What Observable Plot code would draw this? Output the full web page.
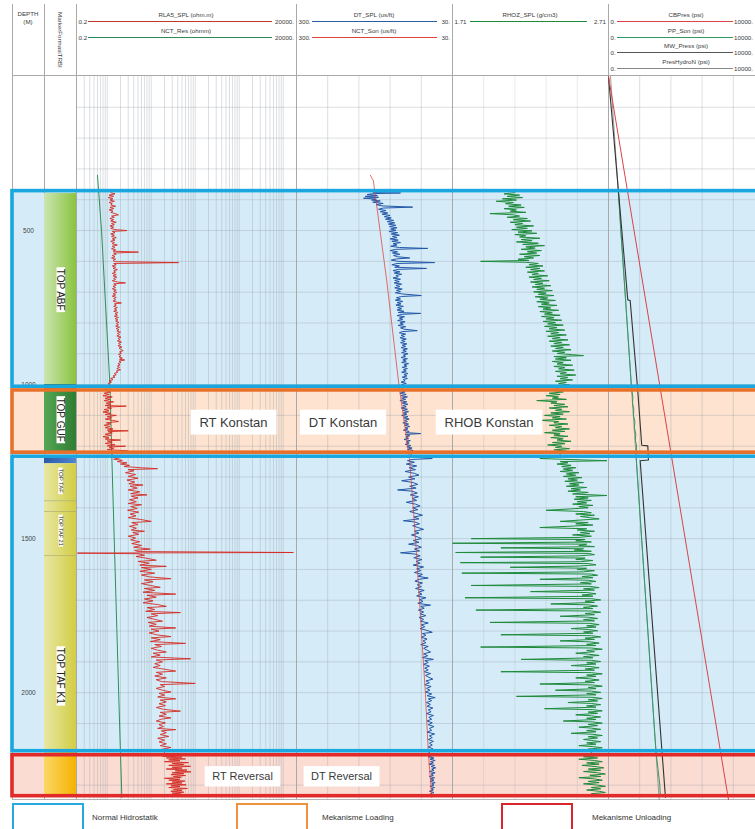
<!DOCTYPE html>
<html><head><meta charset="utf-8">
<script src="https://cdn.jsdelivr.net/npm/d3@7"></script>
<script src="https://cdn.jsdelivr.net/npm/@observablehq/plot@0.6"></script>
<style>
body{margin:0;background:#fff;}
#wrap{position:relative;width:755px;height:829px;overflow:hidden;font-family:"Liberation Sans",Arial,sans-serif;background:#fff;}
#wrap svg{max-width:none !important;}
.abs{position:absolute;}
.ht{position:absolute;font-size:6.2px;line-height:7px;color:#3a3a3a;white-space:nowrap;}
.lg{position:absolute;font-size:8px;color:#333;white-space:nowrap;}
</style></head><body><div id="wrap"></div>
<script>
// ---------------- DATA ----------------
const depthLabels = [500, 1000, 1500, 2000];
const gridDepths = [100,200,300,400,500,600,700,800,900,1000,1100,1200,1300,1400,1500,1600,1700,1800,1900,2000,2100,2200,2300];
const resTicks = [0.3,0.4,0.5,0.6,0.7,0.8,0.9,1,2,3,4,5,6,7,8,9,10,20,30,40,50,60,70,80,90,100,200,300,400,500,600,700,800,900,1000,2000,3000,4000,5000,6000,7000,8000,9000,10000];
const dtTicks = [246, 192, 138, 84];
const rhobTicks = [1.91, 2.11, 2.31, 2.51];
const presTicks = [2000, 4000, 6000, 8000];

// pressure zones
const zoneKind = ["normal", "loading", "normal", "unloading"];
const zoneTop = [372, 1019, 1234, 2203];
const zoneBase = [1007, 1221, 2190, 2336];

// formation column
const fmTop   = [380, 1000, 1007, 1234, 1257, 1377, 1412, 1555, 2190];
const fmBase  = [1000, 1007, 1221, 1257, 1377, 1412, 1555, 2190, 2340];
const fmStyle = ["abf", "abfBase", "guf", "tafTop", "taf", "taf", "taf", "taf", "tafLow"];
const fmTops  = [1377, 1412, 1555];
const fmLabel = ["TOP ABF", "TOP GUF", "TOP TAF", "TOP TAF 21", "TOP TAF K1"];
const fmLabelDepth = [692, 1114, 1312, 1474, 1945];
const fmLabelSize = [10, 10, 6, 5.5, 10];

// annotations
const annText = ["RT Konstan", "DT Konstan", "RHOB Konstan", "RT Reversal", "DT Reversal"];
const annTrack = ["res", "dt", "rhob", "res", "dt"];
const annValue = [740, 219.5, 1.944, 1185, 222];
const annDepth = [1123, 1123, 1123, 2273, 2273];
const annSize = [13, 13, 13, 11, 11];

// curves: [depth (m), value]
const rtLog = [[377,1.2],[381,1.5],[385,1.1],[389,1.4],[393,1.05],[397,1.35],[401,1.15],[405,1.45],[409,1.1],[413,1.3],[417,1.2],[421,1.55],[425,1.15],[429,1.4],[433,1.1],[437,1.35],[441,1.2],[445,1.5],[449,1.8],[453,1.25],[457,1.45],[461,1.15],[465,1.4],[469,1.2],[473,1.6],[477,1.25],[481,1.45],[485,1.15],[489,1.4],[493,1.2],[497,1.5],[500,2.8],[503,1.3],[507,1.5],[511,1.2],[515,1.45],[519,1.25],[523,1.6],[527,1.3],[531,1.5],[535,1.2],[539,1.45],[543,1.3],[547,1.7],[551,1.3],[555,1.5],[559,1.25],[563,1.55],[567,1.35],[570,5.1],[573,1.4],[577,1.6],[581,1.3],[585,1.5],[589,1.25],[593,1.55],[597,1.35],[601,1.5],[604,42],[607,1.4],[611,1.6],[615,1.3],[619,1.55],[623,1.35],[627,1.7],[631,1.4],[635,1.55],[639,1.3],[643,1.6],[647,1.35],[651,1.65],[655,1.4],[659,1.55],[663,1.3],[667,1.7],[670,2.6],[673,1.4],[677,1.6],[681,1.35],[685,1.55],[689,1.3],[693,1.6],[697,1.4],[701,1.65],[705,1.35],[709,1.55],[713,1.3],[717,1.6],[721,1.4],[725,1.55],[729,1.35],[733,1.7],[735,2.1],[738,1.45],[742,1.6],[746,1.4],[750,1.7],[754,1.45],[758,1.65],[762,1.4],[766,1.75],[770,1.5],[774,1.7],[778,1.45],[782,1.8],[786,1.5],[790,1.75],[794,1.55],[798,1.85],[802,1.6],[806,1.8],[810,1.55],[814,1.9],[818,1.6],[822,1.85],[826,1.65],[830,2.0],[834,1.7],[838,1.9],[842,1.65],[846,2.05],[850,1.75],[854,1.95],[858,1.7],[862,2.1],[866,1.8],[870,2.0],[874,1.75],[878,2.15],[882,1.85],[886,2.05],[890,2.3],[894,1.9],[898,2.1],[902,1.8],[906,2.05],[910,1.85],[914,2.2],[918,1.9],[920,2.5],[924,1.85],[928,2.05],[932,1.75],[936,1.95],[940,1.7],[944,1.9],[948,1.65],[952,2.0],[956,1.6],[960,1.75],[964,1.45],[968,1.6],[972,1.35],[976,1.5],[980,1.2],[984,1.35],[988,1.1],[992,1.25],[996,1.05],[1000,1.15],[1004,1.0],
[1020,0.9],[1024,1.2],[1028,0.85],[1032,1.1],[1036,0.8],[1040,1.3],[1044,0.9],[1048,1.15],[1052,0.85],[1056,1.4],[1060,0.95],[1064,1.2],[1068,0.9],[1070,2.7],[1073,1.0],[1077,1.25],[1081,0.85],[1085,1.1],[1089,0.8],[1093,1.2],[1097,0.9],[1100,1.6],[1104,1.0],[1108,1.25],[1112,0.9],[1116,1.3],[1120,1.8],[1124,0.95],[1128,1.2],[1132,0.85],[1136,1.15],[1140,0.9],[1144,1.35],[1148,1.0],[1150,3.0],[1153,1.05],[1157,1.3],[1161,0.9],[1165,1.2],[1169,0.8],[1173,1.1],[1177,0.9],[1180,2.0],[1183,1.0],[1187,1.3],[1191,0.9],[1195,1.5],[1199,1.0],[1200,2.6],[1203,1.1],[1207,1.4],[1211,1.0],[1215,2.9],[1218,1.2],[1222,1.3],
[1234,1.3],[1238,1.9],[1242,1.4],[1246,2.2],[1250,1.7],[1254,2.8],[1258,2.0],[1262,3.2],[1266,2.4],[1270,6.0],[1273,13.9],[1276,3.0],[1280,4.0],[1286,2.6],[1292,4.4],[1298,3.0],[1304,5.0],[1310,2.8],[1316,4.2],[1322,3.1],[1326,6.5],[1330,3.3],[1336,4.8],[1342,3.0],[1348,5.5],[1354,3.4],[1358,8.0],[1362,3.5],[1368,5.0],[1374,3.2],[1380,4.6],[1386,3.0],[1390,6.0],[1396,3.4],[1402,4.8],[1408,2.9],[1414,5.2],[1420,3.3],[1426,4.5],[1432,3.0],[1438,5.8],[1444,10],[1448,3.6],[1454,5.0],[1460,3.2],[1466,4.6],[1472,3.5],[1476,7.0],[1480,3.8],[1486,5.2],[1492,3.0],[1498,4.4],[1504,3.4],[1510,5.5],[1516,3.6],[1522,6.0],[1528,4.0],[1534,9.5],[1538,4.2],[1542,5.0],[1545,17000],[1547,0.21],[1549,5.0],[1554,7.0],[1558,4.5],[1564,8.0],[1570,13],[1574,5.0],[1580,9.0],[1586,5.5],[1590,22],[1594,6.0],[1600,10],[1606,5.5],[1612,12],[1618,6.0],[1624,9.0],[1630,28],[1634,7.0],[1640,11],[1646,6.0],[1652,9.5],[1658,16],[1662,7.0],[1668,12],[1674,6.5],[1680,36],[1684,8.0],[1690,13],[1696,7.0],[1702,11],[1708,6.5],[1714,14],[1720,22],[1724,8.0],[1730,12],[1736,7.5],[1740,46],[1744,10],[1750,14],[1756,8.0],[1762,12],[1768,18],[1772,8.5],[1778,13],[1784,9.0],[1790,36],[1794,10],[1800,15],[1806,9.0],[1812,13],[1818,28],[1822,10],[1828,16],[1834,9.5],[1840,60],[1844,12],[1850,17],[1856,10],[1862,14],[1868,22],[1872,11],[1878,16],[1884,10],[1890,78],[1894,13],[1900,18],[1906,12],[1912,16],[1918,11],[1924,20],[1930,36],[1934,13],[1940,18],[1946,12],[1952,22],[1958,13],[1964,17],[1970,100],[1974,16],[1980,20],[1986,13],[1992,18],[1998,28],[2002,15],[2008,20],[2014,14],[2020,36],[2024,16],[2030,22],[2036,15],[2042,21],[2048,13],[2054,19],[2060,46],[2064,16],[2070,22],[2076,15],[2082,28],[2086,17],[2092,13],[2098,21],[2104,15],[2110,19],[2116,14],[2120,36],[2124,17],[2130,22],[2136,16],[2142,25],[2148,14],[2154,20],[2160,15],[2166,22],[2172,16],[2178,28],[2184,17],[2190,20],
[2200,20],[2203,40],[2206,18],[2209,50],[2212,22],[2215,60],[2218,25],[2221,45],[2224,20],[2227,70],[2230,30],[2233,55],[2236,25],[2239,78],[2242,30],[2245,50],[2248,22],[2251,65],[2254,35],[2257,80],[2260,30],[2263,55],[2266,28],[2269,60],[2272,32],[2275,48],[2278,20],[2281,45],[2284,25],[2287,58],[2290,30],[2293,50],[2296,22],[2299,62],[2302,28],[2305,45],[2308,25],[2311,66],[2314,32],[2317,50],[2320,28],[2323,55],[2326,30],[2329,48],[2332,25],[2335,40]];

const nctRes = [[321,0.60],[500,0.74],[1000,1.15],[1250,1.28],[2150,1.95],[2340,2.15]];

const dtLog = [[377,167],[378,120],[380,165],[383,178],[386,160],[389,181],[392,158],[395,184],[398,162],[401,170],[404,155],[408,168],[412,150],[416,162],[420,152],[424,99],[427,150],[431,158],[435,145],[439,155],[443,142],[447,152],[451,138],[455,148],[459,136],[463,146],[467,132],[471,143],[475,130],[479,141],[483,128],[487,139],[491,126],[495,137],[499,128],[503,140],[507,125],[511,136],[515,122],[519,134],[523,126],[527,138],[531,124],[535,135],[539,120],[543,133],[547,126],[551,137],[555,122],[558,73],[561,128],[565,138],[569,125],[573,134],[577,121],[581,132],[585,125],[589,104],[592,127],[596,136],[600,124],[604,61],[607,126],[611,135],[615,122],[619,130],[623,75],[626,124],[630,133],[634,121],[638,131],[642,118],[646,128],[650,124],[654,133],[658,120],[662,130],[666,122],[670,131],[674,118],[678,128],[682,121],[686,130],[690,117],[694,127],[698,120],[702,129],[706,116],[711,84],[714,118],[718,127],[722,120],[726,129],[730,116],[734,126],[738,119],[742,128],[746,115],[750,125],[754,118],[758,126],[762,114],[766,124],[769,85],[772,117],[776,126],[780,113],[784,122],[788,116],[792,125],[796,112],[800,121],[804,115],[808,124],[812,111],[816,120],[820,114],[825,91],[828,117],[832,122],[836,111],[840,119],[844,113],[848,121],[852,110],[856,118],[860,112],[864,120],[868,109],[872,117],[876,111],[880,119],[884,108],[888,116],[892,110],[896,118],[900,107],[904,115],[908,111],[912,119],[916,108],[920,116],[924,110],[928,118],[932,106],[936,114],[940,109],[944,117],[948,108],[952,115],[956,110],[960,118],[964,107],[968,114],[972,109],[976,117],[980,108],[984,115],[988,112],[992,119],[996,110],[1000,118],[1004,113],
[1020,120],[1024,112],[1028,121],[1032,110],[1036,119],[1040,108],[1044,118],[1048,111],[1052,121],[1056,109],[1060,117],[1064,107],[1068,116],[1072,110],[1076,119],[1080,108],[1084,116],[1088,106],[1092,115],[1096,109],[1100,118],[1104,107],[1108,114],[1112,105],[1116,113],[1120,108],[1124,116],[1128,106],[1132,113],[1136,104],[1140,112],[1144,107],[1148,115],[1152,105],[1156,110],[1159,85],[1162,112],[1166,104],[1170,111],[1174,106],[1178,114],[1182,103],[1186,110],[1190,105],[1194,112],[1198,102],[1202,109],[1206,100],[1210,108],[1214,98],[1218,106],[1222,100],
[1234,104],[1240,65],[1243,100],[1247,108],[1252,96],[1258,110],[1264,92],[1270,105],[1276,94],[1282,112],[1288,96],[1294,88],[1300,106],[1306,95],[1312,118],[1318,98],[1324,90],[1330,104],[1336,93],[1342,125],[1346,100],[1352,91],[1358,103],[1364,89],[1370,100],[1376,92],[1382,110],[1388,94],[1394,86],[1400,99],[1406,90],[1412,104],[1418,93],[1424,82],[1430,97],[1436,88],[1442,115],[1446,95],[1452,87],[1458,99],[1464,90],[1470,80],[1476,96],[1482,88],[1488,101],[1494,91],[1500,84],[1506,98],[1512,88],[1518,106],[1522,92],[1528,84],[1534,96],[1540,87],[1546,120],[1550,95],[1556,86],[1562,97],[1568,83],[1574,93],[1580,86],[1586,98],[1592,80],[1598,92],[1604,85],[1610,96],[1616,82],[1622,90],[1628,72],[1632,88],[1638,95],[1644,82],[1650,91],[1656,84],[1662,94],[1668,79],[1674,89],[1680,83],[1686,92],[1692,76],[1698,87],[1704,81],[1710,90],[1716,68],[1720,85],[1726,79],[1732,89],[1738,80],[1744,86],[1750,76],[1756,88],[1762,80],[1768,85],[1774,72],[1780,84],[1786,78],[1792,86],[1798,74],[1804,65],[1808,82],[1814,76],[1820,84],[1826,74],[1832,81],[1838,76],[1844,85],[1850,72],[1856,80],[1862,74],[1868,68],[1874,80],[1880,73],[1886,82],[1892,63],[1896,78],[1902,72],[1908,80],[1914,70],[1920,78],[1926,72],[1932,79],[1938,68],[1944,77],[1950,71],[1956,64],[1962,76],[1968,70],[1974,78],[1980,67],[1986,75],[1992,69],[1998,77],[2004,66],[2010,74],[2016,60],[2020,72],[2026,66],[2032,75],[2038,68],[2044,74],[2050,64],[2056,72],[2062,67],[2068,75],[2074,63],[2080,71],[2086,66],[2092,74],[2098,65],[2104,72],[2110,62],[2116,70],[2122,66],[2128,74],[2134,61],[2140,70],[2146,65],[2152,72],[2158,63],[2164,70],[2170,65],[2176,72],[2182,64],[2190,70],
[2200,70],[2204,64],[2208,72],[2212,62],[2216,69],[2220,60],[2224,68],[2228,63],[2232,71],[2236,61],[2240,67],[2244,59],[2248,66],[2252,62],[2256,70],[2260,60],[2264,67],[2268,63],[2272,70],[2276,61],[2280,68],[2284,62],[2288,69],[2292,60],[2296,66],[2300,62],[2304,69],[2308,61],[2312,67],[2316,63],[2320,70],[2324,62],[2328,68],[2332,64],[2336,66]];

const nctSon = [[321,172],[338,167],[660,144],[997,123],[1247,104],[1500,94],[1766,85],[2000,77],[2188,72],[2340,66]];

const rhobLog = [[377,2.11],[381,2.04],[385,2.14],[389,2.06],[393,2.16],[397,2.03],[401,2.12],[405,1.99],[409,2.10],[413,2.05],[417,2.15],[421,2.07],[425,2.17],[429,2.04],[433,2.12],[437,2.08],[441,2.18],[445,1.95],[449,2.10],[453,2.14],[457,2.06],[461,2.19],[465,2.10],[469,2.21],[473,2.08],[477,2.16],[481,2.11],[485,2.23],[489,2.12],[493,2.19],[497,2.09],[501,2.22],[505,2.13],[509,2.25],[513,2.11],[517,2.18],[521,2.14],[525,2.27],[529,2.15],[533,2.22],[537,2.12],[541,2.26],[545,2.16],[549,2.30],[553,2.18],[557,2.24],[561,2.15],[565,2.28],[569,2.19],[573,2.25],[577,2.14],[581,2.27],[585,2.17],[589,2.23],[593,2.13],[597,2.20],[600,1.89],[603,2.18],[607,2.26],[611,2.20],[615,2.29],[619,2.18],[623,2.27],[627,2.21],[631,2.30],[635,2.19],[639,2.26],[643,2.22],[647,2.32],[651,2.20],[655,2.28],[659,2.23],[663,2.33],[667,2.21],[671,2.29],[675,2.24],[679,2.34],[683,2.22],[687,2.30],[691,2.25],[695,2.35],[699,2.23],[703,2.31],[707,2.26],[711,2.36],[715,2.24],[719,2.32],[723,2.27],[727,2.37],[731,2.25],[735,2.33],[739,2.28],[743,2.38],[747,2.26],[751,2.34],[755,2.29],[759,2.39],[763,2.27],[767,2.35],[771,2.30],[775,2.40],[779,2.28],[783,2.36],[787,2.31],[791,2.41],[795,2.29],[799,2.37],[803,2.32],[807,2.42],[811,2.30],[815,2.38],[819,2.33],[823,2.43],[827,2.31],[831,2.39],[835,2.34],[839,2.44],[843,2.32],[847,2.40],[851,2.35],[855,2.45],[859,2.33],[863,2.41],[867,2.36],[871,2.46],[875,2.34],[879,2.42],[883,2.37],[887,2.47],[891,2.35],[895,2.43],[899,2.38],[903,2.48],[906,2.55],[909,2.36],[913,2.44],[917,2.37],[921,2.47],[925,2.35],[929,2.42],[933,2.38],[937,2.48],[941,2.36],[945,2.43],[949,2.39],[953,2.49],[957,2.37],[961,2.44],[965,2.40],[969,2.50],[973,2.38],[977,2.45],[981,2.40],[985,2.48],[989,2.37],[993,2.44],[997,2.39],[1001,2.46],[1005,2.40],
[1020,2.36],[1024,2.42],[1028,2.33],[1032,2.40],[1036,2.31],[1040,2.39],[1044,2.35],[1048,2.44],[1052,2.25],[1056,2.38],[1060,2.34],[1064,2.43],[1068,2.36],[1072,2.45],[1076,2.33],[1080,2.41],[1084,2.37],[1088,2.46],[1092,2.34],[1096,2.42],[1100,2.30],[1104,2.40],[1108,2.35],[1112,2.44],[1116,2.27],[1120,2.39],[1124,2.36],[1128,2.45],[1132,2.33],[1136,2.41],[1140,2.37],[1144,2.46],[1148,2.35],[1152,2.43],[1156,2.30],[1160,2.40],[1164,2.36],[1168,2.45],[1172,2.34],[1176,2.42],[1180,2.38],[1184,2.47],[1188,2.35],[1192,2.43],[1196,2.32],[1200,2.41],[1204,2.37],[1208,2.46],[1212,2.36],[1216,2.44],[1220,2.40],
[1234,2.40],[1240,2.27],[1247,2.70],[1250,2.40],[1254,2.45],[1258,2.38],[1262,2.47],[1266,2.41],[1270,2.50],[1274,2.42],[1278,2.48],[1282,2.40],[1286,2.52],[1290,2.44],[1294,2.50],[1298,2.42],[1302,2.54],[1306,2.45],[1310,2.51],[1314,2.43],[1318,2.55],[1322,2.46],[1326,2.52],[1330,2.44],[1334,2.57],[1338,2.47],[1342,2.53],[1346,2.45],[1350,2.58],[1355,2.48],[1360,2.70],[1364,2.50],[1368,2.58],[1372,2.49],[1376,2.60],[1380,2.51],[1384,2.57],[1388,2.48],[1392,2.61],[1396,2.52],[1400,2.58],[1404,2.45],[1408,2.31],[1412,2.55],[1416,2.60],[1420,2.50],[1424,2.62],[1428,2.53],[1432,2.59],[1436,2.65],[1440,2.52],[1444,2.40],[1448,2.58],[1452,2.50],[1456,2.61],[1460,2.45],[1464,2.27],[1468,2.57],[1472,2.51],[1476,2.62],[1480,2.53],[1484,2.59],[1488,2.48],[1492,2.60],[1496,2.52],[1500,1.83],[1503,2.56],[1507,2.50],[1511,2.60],[1515,1.71],[1518,2.57],[1522,2.52],[1526,2.62],[1530,2.02],[1533,2.55],[1537,2.49],[1541,2.60],[1545,1.73],[1548,2.58],[1552,2.62],[1556,2.52],[1560,1.89],[1563,2.56],[1567,2.50],[1571,2.61],[1575,2.53],[1578,1.76],[1581,2.58],[1585,2.63],[1589,2.52],[1593,2.08],[1596,2.57],[1600,2.51],[1604,2.62],[1608,2.55],[1612,1.77],[1615,2.60],[1619,2.64],[1623,2.54],[1627,2.61],[1632,2.27],[1635,2.58],[1639,2.63],[1643,2.53],[1647,2.60],[1652,1.83],[1655,2.59],[1659,2.65],[1663,2.55],[1667,2.62],[1672,2.21],[1675,2.57],[1679,2.63],[1683,2.54],[1687,2.61],[1692,1.79],[1695,2.60],[1699,2.66],[1703,2.56],[1707,2.62],[1712,2.34],[1715,2.58],[1719,2.64],[1723,2.55],[1727,2.61],[1732,1.86],[1735,2.60],[1739,2.66],[1743,2.56],[1747,2.62],[1752,2.40],[1755,2.58],[1759,2.64],[1763,2.55],[1767,2.62],[1772,1.95],[1775,2.59],[1779,2.65],[1783,2.57],[1787,2.63],[1792,2.47],[1795,2.58],[1799,2.64],[1803,2.55],[1807,2.61],[1812,2.02],[1815,2.60],[1819,2.66],[1823,2.56],[1827,2.62],[1832,2.40],[1835,2.59],[1839,2.65],[1843,2.57],[1847,2.63],[1852,1.89],[1855,2.60],[1859,2.67],[1863,2.57],[1867,2.62],[1872,2.50],[1875,2.58],[1879,2.65],[1883,2.55],[1887,2.61],[1892,2.15],[1895,2.60],[1899,2.66],[1903,2.57],[1907,2.63],[1912,2.47],[1915,2.59],[1919,2.65],[1923,2.56],[1927,2.62],[1932,2.02],[1935,2.60],[1939,2.67],[1943,2.57],[1947,2.63],[1952,2.50],[1955,2.59],[1959,2.65],[1963,2.56],[1967,2.62],[1972,2.27],[1975,2.61],[1979,2.67],[1983,2.58],[1987,2.63],[1992,2.37],[1995,2.60],[1999,2.66],[2003,2.57],[2007,2.63],[2012,2.12],[2015,2.61],[2019,2.67],[2023,2.58],[2027,2.64],[2032,2.45],[2035,2.60],[2039,2.66],[2043,2.57],[2047,2.63],[2052,2.30],[2055,2.61],[2059,2.67],[2063,2.58],[2067,2.64],[2072,2.50],[2075,2.60],[2079,2.66],[2083,2.57],[2087,2.63],[2092,2.42],[2095,2.61],[2099,2.67],[2103,2.58],[2107,2.64],[2112,2.52],[2115,2.60],[2119,2.66],[2123,2.57],[2127,2.63],[2132,2.47],[2135,2.61],[2139,2.67],[2143,2.58],[2147,2.64],[2152,2.55],[2155,2.60],[2159,2.66],[2163,2.57],[2167,2.63],[2172,2.52],[2175,2.61],[2179,2.67],[2183,2.58],[2187,2.64],[2190,2.60],
[2200,2.60],[2204,2.66],[2208,2.55],[2212,2.64],[2216,2.52],[2220,2.62],[2224,2.67],[2228,2.57],[2232,2.65],[2236,2.54],[2240,2.63],[2244,2.68],[2248,2.58],[2252,2.66],[2256,2.55],[2260,2.64],[2264,2.69],[2268,2.59],[2272,2.66],[2276,2.52],[2280,2.62],[2284,2.67],[2288,2.58],[2292,2.65],[2296,2.55],[2300,2.64],[2304,2.69],[2308,2.60],[2312,2.66],[2316,2.57],[2320,2.65],[2324,2.69],[2328,2.60],[2332,2.66],[2336,2.62]];

const cbPres = [[0,0],[2350,7700]];
const presHydro = [[0,130],[2350,3250]];
const mwPress = [[0,0],[338,580],[725,1235],[727,1390],[1010,1860],[1197,2130],[1199,2520],[1245,2560],[1247,2030],[2340,3650]];
const ppSon = [[377,640],[500,790],[700,1060],[900,1330],[1007,1470],[1020,1500],[1040,1560],[1060,1540],[1080,1620],[1100,1600],[1120,1690],[1140,1660],[1160,1750],[1180,1720],[1200,1800],[1215,1780],[1234,1770],[1500,2125],[1800,2525],[2100,2920],[2200,3060],[2250,3180],[2300,3290],[2335,3320]];

// ---------------- LAYOUT ----------------
const W = 755;
const yOpts = {domain: [0, 2350], range: [76, 800], axis: null};
const zoneStyle = {
  normal:    {fill: "#d5ecf8", stroke: "#1aa7df"},
  loading:   {fill: "#fde3d0", stroke: "#e8702a"},
  unloading: {fill: "#fbdcd3", stroke: "#e12a2a"}
};
const font = '"Liberation Sans", Arial, sans-serif';
const wrap = document.getElementById("wrap");

function mount(node, left, top = 0) {
  const d = document.createElement("div");
  d.className = "abs";
  d.style.left = left + "px"; d.style.top = top + "px";
  d.appendChild(node);
  wrap.appendChild(d);
  return node;
}
function basePlot(width, marginLeft, x, marks) {
  return Plot.plot({
    width, height: 800, marginTop: 76, marginBottom: 0, marginLeft, marginRight: 0,
    x: {...x, axis: null}, y: yOpts,
    style: {background: "transparent", overflow: "visible", fontFamily: font, maxWidth: "none"},
    marks
  });
}
function boxTexts(svg, fx, fy) {
  svg.querySelectorAll('g[aria-label="text"] text').forEach(t => {
    const fs = parseFloat(getComputedStyle(t).fontSize) || 10;
    const b = t.getBBox();
    const px = fx * fs, py = fy * fs;
    const r = document.createElementNS("http://www.w3.org/2000/svg", "rect");
    r.setAttribute("x", b.x - px); r.setAttribute("y", b.y - py);
    r.setAttribute("width", b.width + 2 * px); r.setAttribute("height", b.height + 2 * py);
    r.setAttribute("fill", "#fff");
    const tr = t.getAttribute("transform");
    if (tr) r.setAttribute("transform", tr);
    t.parentNode.insertBefore(r, t);
  });
}
const zones = zoneKind.map((k, i) => ({kind: k, top: zoneTop[i], base: zoneBase[i]}));

// 1. zone fills
mount(basePlot(800, 12, {domain: [0, 1]},
  zones.map(z => Plot.rect([z], {y1: "top", y2: "base", fill: zoneStyle[z.kind].fill}))), 0);

// 2. track borders (layout)
[12, 44, 76, 296, 452, 608].forEach(x => {
  const d = document.createElement("div");
  d.className = "abs";
  Object.assign(d.style, {left: (x - 0.5) + "px", top: "4px", width: "1px", height: "796px", background: "#a9a9a9"});
  wrap.appendChild(d);
});
const hb = document.createElement("div");
hb.className = "abs";
Object.assign(hb.style, {left: "12px", top: "75px", width: "743px", height: "1px", background: "#a9a9a9"});
wrap.appendChild(hb);
const bb = document.createElement("div");
bb.className = "abs";
Object.assign(bb.style, {left: "12px", top: "799px", width: "743px", height: "1px", background: "#b5b5b5"});
wrap.appendChild(bb);

const gridStroke = {stroke: "#8e98a2", strokeOpacity: 0.45, strokeWidth: 0.7};
const hGrid = Plot.ruleY(gridDepths, {y: d => d, ...gridStroke});
function annMarks(track) {
  const rows = annText.map((t, i) => ({t, v: annValue[i], d: annDepth[i], s: annSize[i], tr: annTrack[i]})).filter(r => r.tr === track);
  return [...new Set(rows.map(r => r.s))].map(s =>
    Plot.text(rows.filter(r => r.s === s), {x: "v", y: "d", text: "t", fontSize: s, fill: "#3a3a3a"}));
}

// 3a. depth track
mount(basePlot(32, 0, {domain: [0, 1]}, [
  Plot.text(depthLabels, {y: d => d, text: d => String(d), fontSize: 6.5, fill: "#444"})
]), 12);

// 3b. formation track
const fmData = fmTop.map((t, i) => ({top: t, base: fmBase[i], style: fmStyle[i]}));
const fmLabels = fmLabel.map((n, i) => ({n, d: fmLabelDepth[i], s: fmLabelSize[i]}));
const fmSvg = mount(basePlot(32, 0, {domain: [0, 1]}, [
  ...fmData.map(f => Plot.rect([f], {y1: "top", y2: "base", fill: `url(#fm-${f.style})`})),
  Plot.ruleY(fmTops, {y: d => d, stroke: "#9b9b6a", strokeWidth: 0.5}),
  ...[...new Set(fmLabels.map(l => l.s))].map(s =>
    Plot.text(fmLabels.filter(l => l.s === s), {y: "d", text: "n", rotate: 90, fontSize: s, fill: "#222"}))
]), 44);
const grads = {
  abf: ["#cbe5b1", "#8ac43f"], abfBase: ["#2d6b2f", "#2d6b2f"], guf: ["#55a655", "#2f7d33"],
  tafTop: ["#2b59a6", "#5285d2"], taf: ["#e7e7a3", "#d3cd44"], tafLow: ["#fbd764", "#f5b300"]
};
const defs = d3.select(fmSvg).insert("defs", ":first-child");
Object.entries(grads).forEach(([k, [a, b]]) => {
  const g = defs.append("linearGradient").attr("id", "fm-" + k).attr("x1", "0").attr("x2", "1").attr("y1", "0").attr("y2", "0");
  g.append("stop").attr("offset", "0").attr("stop-color", a);
  g.append("stop").attr("offset", "1").attr("stop-color", b);
});
boxTexts(fmSvg, 0.15, -0.12);

// 3c. resistivity track
const resSvg = mount(basePlot(220, 0, {type: "log", domain: [0.2, 20000]}, [
  Plot.ruleX(resTicks, {x: d => d, ...gridStroke}),
  hGrid,
  Plot.line(nctRes, {x: d => d[1], y: d => d[0], stroke: "#2f8f55", strokeWidth: 1, clip: true}),
  Plot.line(rtLog, {x: d => d[1], y: d => d[0], stroke: "#d22b24", strokeWidth: 0.9, clip: true}),
  ...annMarks("res")
]), 76);
boxTexts(resSvg, 0.68, 0.38);

// 3d. DT track
const dtSvg = mount(basePlot(156, 0, {domain: [300, 30]}, [
  Plot.ruleX(dtTicks, {x: d => d, ...gridStroke}),
  hGrid,
  Plot.line(dtLog, {x: d => d[1], y: d => d[0], stroke: "#2257a8", strokeWidth: 1, clip: true}),
  Plot.line(nctSon, {x: d => d[1], y: d => d[0], stroke: "#e0413b", strokeWidth: 0.9, strokeOpacity: 0.85, clip: true}),
  ...annMarks("dt")
]), 296);
boxTexts(dtSvg, 0.68, 0.38);

// 3e. RHOB track
const rhobSvg = mount(basePlot(156, 0, {domain: [1.71, 2.71]}, [
  Plot.ruleX(rhobTicks, {x: d => d, ...gridStroke, strokeOpacity: 0.3}),
  hGrid,
  Plot.line(rhobLog, {x: d => d[1], y: d => d[0], stroke: "#1f8a3b", strokeWidth: 1, clip: true}),
  ...annMarks("rhob")
]), 452);
boxTexts(rhobSvg, 0.68, 0.38);

// 3f. pressure track
mount(basePlot(156, 0, {domain: [0, 10000]}, [
  Plot.ruleX(presTicks, {x: d => d, ...gridStroke}),
  hGrid,
  Plot.line(presHydro, {x: d => d[1], y: d => d[0], stroke: "#777", strokeWidth: 0.7, clip: true}),
  Plot.line(ppSon, {x: d => d[1], y: d => d[0], stroke: "#2e9a62", strokeWidth: 1, clip: true}),
  Plot.line(mwPress, {x: d => d[1], y: d => d[0], stroke: "#333", strokeWidth: 1.1, clip: true}),
  Plot.line(cbPres, {x: d => d[1], y: d => d[0], stroke: "#d9434a", strokeWidth: 1, clip: true})
]), 608);

// 4. zone borders on top
mount(basePlot(800, 12, {domain: [0, 1]},
  zones.map(z => Plot.rect([z], {y1: "top", y2: "base", fill: "none", stroke: zoneStyle[z.kind].stroke, strokeWidth: 3.6}))), 0);

// ---------------- HEADER ----------------
function hText(txt, cx, top, align = "center") {
  const d = document.createElement("div");
  d.className = "ht"; d.textContent = txt; d.style.top = top + "px";
  if (align === "center") { d.style.left = cx + "px"; d.style.transform = "translateX(-50%)"; }
  else if (align === "left") { d.style.left = cx + "px"; }
  else { d.style.right = (W - cx) + "px"; }
  wrap.appendChild(d);
  return d;
}
function hLine(x1, x2, y, color, h) {
  const d = document.createElement("div");
  d.className = "abs";
  Object.assign(d.style, {left: x1 + "px", top: (y - h / 2) + "px", width: (x2 - x1) + "px", height: h + "px", background: color});
  wrap.appendChild(d);
}
const headerRows = [
  // track left, width, lineY, label, color, thickness, min, max, padL, padR
  [76, 220, 21, "RLA5_SPL (ohm.m)", "#c0392b", 1, "0.2", "20000.", 12, 24],
  [76, 220, 37, "NCT_Res (ohmm)", "#2e8b57", 1, "0.2", "20000.", 12, 24],
  [296, 156, 21, "DT_SPL (us/ft)", "#2b5ea7", 1, "300.", "30.", 16, 15],
  [296, 156, 37, "NCT_Son (us/ft)", "#e0413b", 1, "300.", "30.", 16, 15],
  [452, 156, 21, "RHOZ_SPL (g/cm3)", "#1f8a3b", 1, "1.71", "2.71", 18, 21],
  [608, 147, 21, "CBPres (psi)", "#d9434a", 1, "0.", "10000.", 9, 22],
  [608, 147, 37, "PP_Son (psi)", "#2e9a62", 1, "0.", "10000.", 9, 22],
  [608, 147, 52.5, "MW_Press (psi)", "#555", 1.6, "0.", "10000.", 9, 22],
  [608, 147, 68.5, "PresHydroN (psi)", "#888", 0.8, "0.", "10000.", 9, 22]
];
headerRows.forEach(([l, w, y, name, col, th, mn, mx, pl, pr]) => {
  hText(name, l === 608 ? 686 : l + w / 2, y - 10.5);
  hLine(l + pl, l + w - pr, y, col, th);
  hText(mn, l + 2.5, y - 3.5, "left");
  hText(mx, l + w - 2, y - 3.5, "right");
});
hText("DEPTH", 28, 10);
hText("(M)", 28, 17.5);
const mk = hText("MarkerFormasiTRBI", 0, 0, "left");
Object.assign(mk.style, {left: "60px", top: "12px", transformOrigin: "0 0", transform: "rotate(90deg) translateY(-50%)"});

// ---------------- LEGEND ----------------
const legendItems = [
  ["Normal Hidrostatik", "#29a9e1", 12, 92],
  ["Mekanisme Loading", "#ef9240", 236, 322],
  ["Mekanisme Unloading", "#d8262c", 501, 592]
];
legendItems.forEach(([label, col, bx, tx]) => {
  const b = document.createElement("div");
  b.className = "abs";
  Object.assign(b.style, {left: bx + "px", top: "803px", width: "72px", height: "30px", border: "2px solid " + col, boxSizing: "border-box"});
  wrap.appendChild(b);
  const t = document.createElement("div");
  t.className = "lg"; t.textContent = label;
  t.style.left = tx + "px"; t.style.top = "813px";
  wrap.appendChild(t);
});
</script></body></html>
